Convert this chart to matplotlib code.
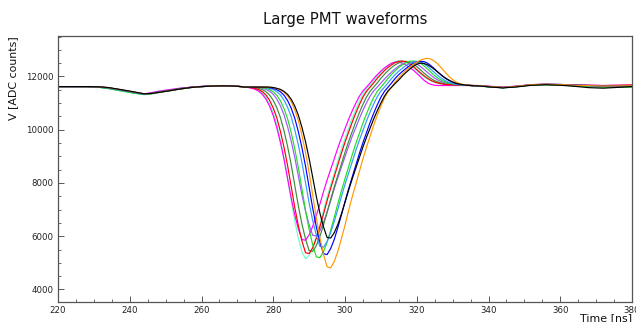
import matplotlib
matplotlib.use("Agg")
import matplotlib.pyplot as plt
from matplotlib.ticker import MultipleLocator

# ---- data ----
# time grids [ns]
t_pre = [220, 228, 231, 234, 237, 240, 242, 244, 246, 248, 251, 254, 257, 260, 263, 266, 269, 271]
t_pulse = list(range(272, 337))
t_post = [337, 340, 344, 348, 352, 356, 360, 364, 368, 372, 376, 380]

# --- magenta ---
magenta_pre = [11620, 11620, 11612, 11575, 11505, 11430, 11380, 11345, 11390, 11445, 11505, 11560, 11600, 11628, 11645, 11652, 11640, 11620]
magenta = [11600, 11585, 11555, 11515, 11440, 11320, 11140, 10880, 10530, 10070, 9520, 8885, 8160, 7440, 6800, 6280, 5875, 5850,
           6050, 6370, 6775, 7205, 7670, 8105, 8510, 8910, 9315, 9690, 10040, 10385, 10705, 10995, 11255, 11455, 11600,
           11760, 11920, 12070, 12200, 12320, 12420, 12500, 12540, 12540, 12500, 12430, 12340, 12240, 12120, 11990, 11860,
           11760, 11700, 11670, 11660, 11660, 11660, 11660, 11660, 11660, 11660, 11660, 11660, 11660, 11660]
magenta_post = [11660, 11635, 11600, 11640, 11695, 11705, 11695, 11680, 11670, 11660, 11665, 11670]

# --- cyan ---
cyan_pre = [11620, 11615, 11595, 11540, 11465, 11395, 11350, 11315, 11340, 11390, 11455, 11520, 11578, 11615, 11638, 11648, 11638, 11618]
cyan = [11600, 11600, 11570, 11535, 11470, 11375, 11215, 10955, 10630, 10180, 9600, 8955, 8180, 7345, 6570, 5925, 5410, 5150,
        5280, 5540, 5990, 6440, 6955, 7470, 7925, 8375, 8825, 9280, 9665, 10050, 10440, 10760, 11085, 11340, 11535,
        11680, 11850, 12010, 12160, 12290, 12400, 12490, 12560, 12590, 12580, 12530, 12440, 12330, 12210, 12090, 11990,
        11900, 11830, 11780, 11740, 11720, 11700, 11690, 11680, 11680, 11670, 11670, 11660, 11660, 11650]
cyan_post = [11645, 11610, 11580, 11620, 11680, 11695, 11685, 11665, 11640, 11620, 11625, 11630]

# --- red ---
red_pre = [11620, 11618, 11605, 11562, 11492, 11422, 11372, 11338, 11365, 11415, 11478, 11538, 11590, 11620, 11640, 11650, 11640, 11620]
red = [11600, 11600, 11580, 11550, 11505, 11425, 11300, 11100, 10815, 10440, 9935, 9340, 8650, 7865, 7080, 6390, 5820, 5380,
       5350, 5570, 5915, 6355, 6830, 7330, 7800, 8240, 8680, 9120, 9530, 9905, 10280, 10625, 10940, 11225, 11445,
       11600, 11760, 11930, 12080, 12220, 12340, 12440, 12520, 12570, 12580, 12550, 12480, 12380, 12260, 12140, 12030,
       11930, 11850, 11790, 11750, 11720, 11700, 11690, 11690, 11680, 11680, 11680, 11670, 11660, 11650]
red_post = [11650, 11625, 11590, 11630, 11690, 11700, 11690, 11675, 11665, 11660, 11670, 11680]

# --- dark green ---
darkgreen_pre = [11620, 11618, 11605, 11560, 11490, 11420, 11370, 11335, 11360, 11410, 11475, 11535, 11588, 11620, 11640, 11650, 11640, 11620]
darkgreen = [11600, 11600, 11600, 11580, 11550, 11505, 11425, 11300, 11105, 10825, 10455, 9955, 9370, 8685, 7910, 7135, 6455, 5895,
             5460, 5430, 5650, 5990, 6425, 6890, 7385, 7850, 8285, 8715, 9150, 9555, 9925, 10300, 10640, 10950, 11230,
             11445, 11600, 11760, 11930, 12080, 12220, 12340, 12440, 12510, 12560, 12570, 12540, 12470, 12370, 12250, 12130,
             12020, 11920, 11840, 11790, 11750, 11720, 11700, 11690, 11690, 11680, 11680, 11670, 11660, 11650]
darkgreen_post = [11650, 11615, 11580, 11620, 11680, 11695, 11680, 11655, 11630, 11610, 11610, 11620]

# --- violet ---
violet_pre = [11620, 11620, 11610, 11570, 11500, 11428, 11378, 11340, 11380, 11435, 11495, 11552, 11596, 11625, 11643, 11650, 11640, 11620]
violet = [11600, 11600, 11600, 11600, 11585, 11555, 11515, 11445, 11330, 11150, 10900, 10560, 10110, 9575, 8960, 8255, 7555, 6935,
          6430, 6035, 6010, 6205, 6515, 6905, 7330, 7780, 8200, 8595, 8985, 9380, 9745, 10080, 10420, 10730, 11010,
          11265, 11460, 11600, 11750, 11900, 12040, 12170, 12290, 12390, 12470, 12530, 12550, 12530, 12470, 12380, 12270,
          12150, 12040, 11940, 11860, 11800, 11760, 11730, 11710, 11700, 11690, 11680, 11670, 11660, 11650]
violet_post = [11655, 11630, 11595, 11635, 11690, 11705, 11700, 11685, 11670, 11655, 11660, 11665]

# --- green ---
green_pre = [11620, 11618, 11600, 11550, 11475, 11405, 11360, 11325, 11350, 11400, 11465, 11530, 11585, 11618, 11640, 11648, 11638, 11618]
green = [11600, 11600, 11600, 11600, 11600, 11580, 11550, 11505, 11420, 11290, 11085, 10795, 10410, 9895, 9280, 8575, 7770, 6965,
         6255, 5675, 5225, 5195, 5420, 5770, 6225, 6705, 7220, 7705, 8155, 8605, 9055, 9475, 9860, 10250, 10600,
         10925, 11215, 11440, 11600, 11760, 11930, 12080, 12220, 12340, 12440, 12520, 12570, 12580, 12560, 12500, 12400,
         12280, 12150, 12030, 11930, 11850, 11790, 11750, 11720, 11700, 11690, 11680, 11670, 11660, 11650]
green_post = [11650, 11610, 11575, 11615, 11675, 11690, 11675, 11650, 11620, 11600, 11595, 11600]

# --- light blue ---
lightblue_pre = [11620, 11619, 11608, 11566, 11496, 11426, 11376, 11340, 11362, 11410, 11472, 11536, 11588, 11620, 11640, 11650, 11640, 11620]
lightblue = [11600, 11600, 11600, 11600, 11600, 11600, 11580, 11550, 11510, 11430, 11310, 11115, 10845, 10485, 10000, 9425, 8760, 8005,
             7250, 6585, 6045, 5620, 5590, 5800, 6135, 6555, 7010, 7495, 7945, 8370, 8790, 9215, 9605, 9970, 10330,
             10665, 10965, 11240, 11450, 11600, 11760, 11930, 12070, 12200, 12310, 12410, 12490, 12550, 12570, 12550, 12480,
             12380, 12260, 12140, 12020, 11920, 11840, 11780, 11740, 11710, 11690, 11680, 11670, 11660, 11650]
lightblue_post = [11650, 11620, 11585, 11628, 11688, 11702, 11692, 11672, 11652, 11635, 11640, 11650]

# --- blue ---
blue_pre = [11620, 11620, 11612, 11578, 11510, 11440, 11390, 11345, 11365, 11410, 11470, 11535, 11588, 11620, 11640, 11650, 11640, 11620]
blue = [11600, 11600, 11600, 11600, 11600, 11600, 11600, 11580, 11550, 11505, 11425, 11295, 11095, 10810, 10430, 9925, 9325, 8630,
        7840, 7050, 6355, 5785, 5345, 5310, 5535, 5880, 6325, 6795, 7300, 7775, 8220, 8660, 9105, 9515, 9895,
        10275, 10620, 10935, 11220, 11440, 11600, 11760, 11930, 12070, 12190, 12300, 12400, 12480, 12540, 12570, 12560,
        12500, 12400, 12280, 12150, 12030, 11930, 11850, 11790, 11740, 11710, 11690, 11680, 11670, 11660]
blue_post = [11655, 11620, 11580, 11625, 11690, 11710, 11700, 11680, 11660, 11640, 11640, 11650]

# --- black ---
black_pre = [11620, 11620, 11615, 11585, 11520, 11450, 11400, 11350, 11360, 11400, 11460, 11530, 11585, 11620, 11640, 11650, 11640, 11620]
black = [11600, 11600, 11600, 11600, 11600, 11600, 11600, 11600, 11585, 11555, 11515, 11440, 11325, 11145, 10890, 10545, 10090, 9550,
         8920, 8210, 7495, 6870, 6355, 5955, 5930, 6130, 6440, 6840, 7270, 7725, 8150, 8550, 8950, 9350, 9720,
         10060, 10405, 10715, 11000, 11260, 11460, 11600, 11740, 11870, 12020, 12150, 12270, 12380, 12460, 12500, 12490,
         12440, 12360, 12260, 12150, 12040, 11940, 11860, 11790, 11740, 11710, 11690, 11670, 11660, 11650]
black_post = [11650, 11610, 11570, 11610, 11670, 11690, 11670, 11630, 11580, 11560, 11590, 11620]

# --- orange ---
orange_pre = [11620, 11620, 11615, 11580, 11515, 11445, 11395, 11350, 11362, 11405, 11465, 11532, 11586, 11620, 11642, 11652, 11640, 11620]
orange = [11600, 11600, 11600, 11600, 11600, 11600, 11600, 11600, 11580, 11545, 11500, 11410, 11270, 11055, 10750, 10340, 9790, 9145,
          8395, 7540, 6690, 5940, 5325, 4850, 4815, 5050, 5430, 5905, 6415, 6960, 7475, 7950, 8430, 8905, 9350,
          9760, 10170, 10545, 10885, 11190, 11430, 11600, 11800, 11950, 12100, 12230, 12350, 12450, 12540, 12610, 12660,
          12680, 12650, 12570, 12450, 12300, 12150, 12000, 11880, 11790, 11730, 11700, 11680, 11670, 11660]
orange_post = [11660, 11625, 11585, 11630, 11695, 11710, 11695, 11675, 11655, 11640, 11645, 11650]

series = [
    (cyan_pre, cyan, cyan_post, "#66ffcc"),
    (magenta_pre, magenta, magenta_post, "#ff00ff"),
    (violet_pre, violet, violet_post, "#a055ff"),
    (darkgreen_pre, darkgreen, darkgreen_post, "#3d8b3d"),
    (red_pre, red, red_post, "#ff0000"),
    (green_pre, green, green_post, "#22dd22"),
    (lightblue_pre, lightblue, lightblue_post, "#3399ff"),
    (blue_pre, blue, blue_post, "#0000ff"),
    (orange_pre, orange, orange_post, "#ff9900"),
    (black_pre, black, black_post, "#000000"),
]

W, H = 636, 322
fig = plt.figure(figsize=(W / 100, H / 100), dpi=100)
ax = fig.add_axes([58 / W, 1 - 302 / H, (632 - 58) / W, (302 - 36) / H])

t_all = t_pre + t_pulse + t_post
for pre, mid, post, col in series:
    assert len(pre) == len(t_pre) and len(mid) == len(t_pulse) and len(post) == len(t_post), col
    ax.plot(t_all, pre + mid + post, color=col, lw=0.85)

ax.set_xlim(220, 380)
ax.set_ylim(3530, 13520)
ax.xaxis.set_major_locator(MultipleLocator(20))
ax.xaxis.set_minor_locator(MultipleLocator(5))
ax.yaxis.set_major_locator(MultipleLocator(2000))
ax.yaxis.set_minor_locator(MultipleLocator(500))
for s in ax.spines.values():
    s.set_color("#555555")
    s.set_linewidth(0.9)
ax.tick_params(which="both", direction="in", colors="#555555", labelcolor="#222222",
               top=False, right=False, labelsize=6.2)
ax.tick_params(which="major", length=4.0, width=0.7, pad=3)
ax.tick_params(which="minor", length=2.2, width=0.6)

fig.text(345 / W, 1 - 24 / H, "Large PMT waveforms", ha="center", va="baseline", fontsize=10.7, color="#111111")
fig.text(13 / W, 1 - 78 / H, "V [ADC counts]", rotation=90, ha="center", va="center", fontsize=7.9, color="#111111")
fig.text(632 / W, 1 - 321 / H, "Time [ns]", ha="right", va="baseline", fontsize=7.9, color="#111111")

fig.savefig("out.png", dpi=100)
